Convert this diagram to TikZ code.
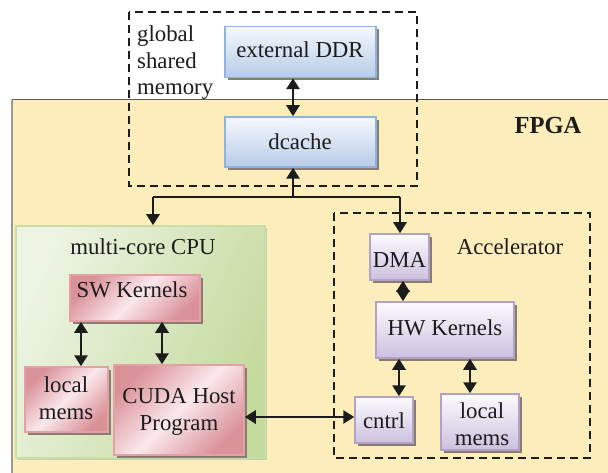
\documentclass[tikz,border=0pt]{standalone}
\usepackage{fontspec}
\setmainfont{Liberation Serif}
\usetikzlibrary{arrows.meta,shadows}
\definecolor{fpgafill}{RGB}{253,237,186}
\definecolor{blueB}{RGB}{141,180,226}
\definecolor{blueT}{RGB}{244,248,253}
\definecolor{blueD}{RGB}{184,204,230}
\definecolor{pinkB}{RGB}{228,160,166}
\definecolor{pinkD}{RGB}{218,146,153}
\definecolor{pinkL}{RGB}{250,232,236}
\definecolor{purB}{RGB}{179,162,199}
\definecolor{purT}{RGB}{252,250,254}
\definecolor{purD}{RGB}{204,193,222}
\definecolor{grnL}{RGB}{237,244,227}
\definecolor{grnD}{RGB}{196,217,156}
\definecolor{grnB}{RGB}{200,222,165}
\definecolor{shad}{RGB}{135,125,112}
\definecolor{ink}{RGB}{28,28,28}
\tikzset{
  txt/.style={font=\fontsize{22.8}{27.5}\selectfont, text=ink, align=center, inner sep=0pt},
  box/.style={line width=1.5pt, inner sep=0pt, txt,
    general shadow={fill=shad, shadow xshift=3pt, shadow yshift=-3pt}},
  bluebox/.style={box, draw=blueB, top color=blueT, bottom color=blueD},
  purbox/.style={box, draw=purB, top color=purT, bottom color=purD},
  pinkbox/.style={box, draw=pinkB, top color=pinkD, bottom color=pinkD, middle color=pinkL, shading angle=45},
  dashbox/.style={draw=ink, line width=2.2pt, dash pattern=on 8pt off 5pt},
  tip/.tip={Triangle[width=13pt,length=11pt]},
  conn/.style={draw=ink, line width=2.8pt},
  biarr/.style={conn, tip-tip},
  onearr/.style={conn, -tip}
}
\begin{document}
\begin{tikzpicture}[x=1pt,y=-1pt]
\useasboundingbox (0,0) rectangle (608,473);
\fill[white] (0,0) rectangle (608,473);
% FPGA region
\fill[fpgafill] (12,100) rectangle (608,473);
\draw[black!65, line width=1pt] (12,100) -- (608,100);
\draw[black!40, line width=2pt] (12,100) -- (12,473);
\node[font=\fontsize{24.5}{28}\selectfont\bfseries, text=ink, inner sep=0pt] (fpga) at (548,126) {FPGA};

% global shared memory
\draw[dashbox] (129,12) rectangle (417,186);
\node[txt, align=left, anchor=west, font=\fontsize{22.8}{26.5}\selectfont] (gsm) at (137,63) {global\\shared\\memory};
\node[bluebox, minimum width=151pt, minimum height=51pt] (ddr) at (300.5,52) {};
\node[txt] (ddrt) at (300,50) {external DDR};
\node[bluebox, minimum width=151pt, minimum height=50pt] (dcache) at (300.5,142) {};
\node[txt] (dcachet) at (300,142) {dcache};

% multi-core CPU
\node[draw=grnB, line width=1.5pt, top color=grnL, bottom color=grnD, shading angle=65,
      minimum width=249pt, minimum height=232pt, inner sep=0pt,
      general shadow={fill=grnD!80!black!60, shadow xshift=2pt, shadow yshift=-2pt}] (cpu) at (140.5,342) {};
\node[txt] (cput) at (143,247) {multi-core CPU};
\node[pinkbox, minimum width=130pt, minimum height=46pt] (sw) at (135,298) {};
\node[txt] (swt) at (132,290) {SW Kernels};
\node[pinkbox, minimum width=83pt, minimum height=65pt] (lm1) at (66.5,399.5) {};
\node[txt] (lm1t) at (66,398) {local\\mems};
\node[pinkbox, minimum width=130pt, minimum height=90pt] (cuda) at (179,410) {};
\node[txt] (cudat) at (179,412) {CUDA Host\\Program};

% Accelerator
\draw[dashbox] (334,213) rectangle (590,458);
\node[txt] (acct) at (510,247) {Accelerator};
\node[purbox, minimum width=59pt, minimum height=46pt] (dma) at (399.5,257) {};
\node[txt] (dmat) at (399.5,260) {DMA};
\node[purbox, minimum width=138pt, minimum height=56pt] (hw) at (445,330) {};
\node[txt] (hwt) at (445,328) {HW Kernels};
\node[purbox, minimum width=58pt, minimum height=46pt] (cntrl) at (384,420) {};
\node[txt] (cntrlt) at (384,421) {cntrl};
\node[purbox, minimum width=78pt, minimum height=56pt] (lm2) at (480,422) {};
\node[txt] (lm2t) at (482,424) {local\\mems};

% connectors
\draw[biarr] (ddr.south -| 293,0) -- (dcache.north -| 293,0);
\coordinate (jn) at (293,197);
\coordinate (jl) at (153,197);
\coordinate (jr) at (400,197);
\draw[conn] (jl) -- (jr);
\draw[onearr] (jn) -- (dcache.south -| jn);
\draw[onearr] (jl) -- (cpu.north -| jl);
\draw[onearr] (jr) -- (dma.north -| jr);
\draw[biarr] (sw.south -| 81,0) -- (lm1.north -| 81,0);
\draw[biarr] (sw.south -| 162,0) -- (cuda.north -| 162,0);
\draw[biarr] (dma.south -| 403,0) -- (hw.north -| 403,0);
\draw[biarr] (hw.south -| 399,0) -- (cntrl.north -| 399,0);
\draw[biarr] (hw.south -| 470,0) -- (lm2.north -| 470,0);
\draw[biarr] (cuda.east |- 0,417) -- (cntrl.west |- 0,417);
\end{tikzpicture}
\end{document}
